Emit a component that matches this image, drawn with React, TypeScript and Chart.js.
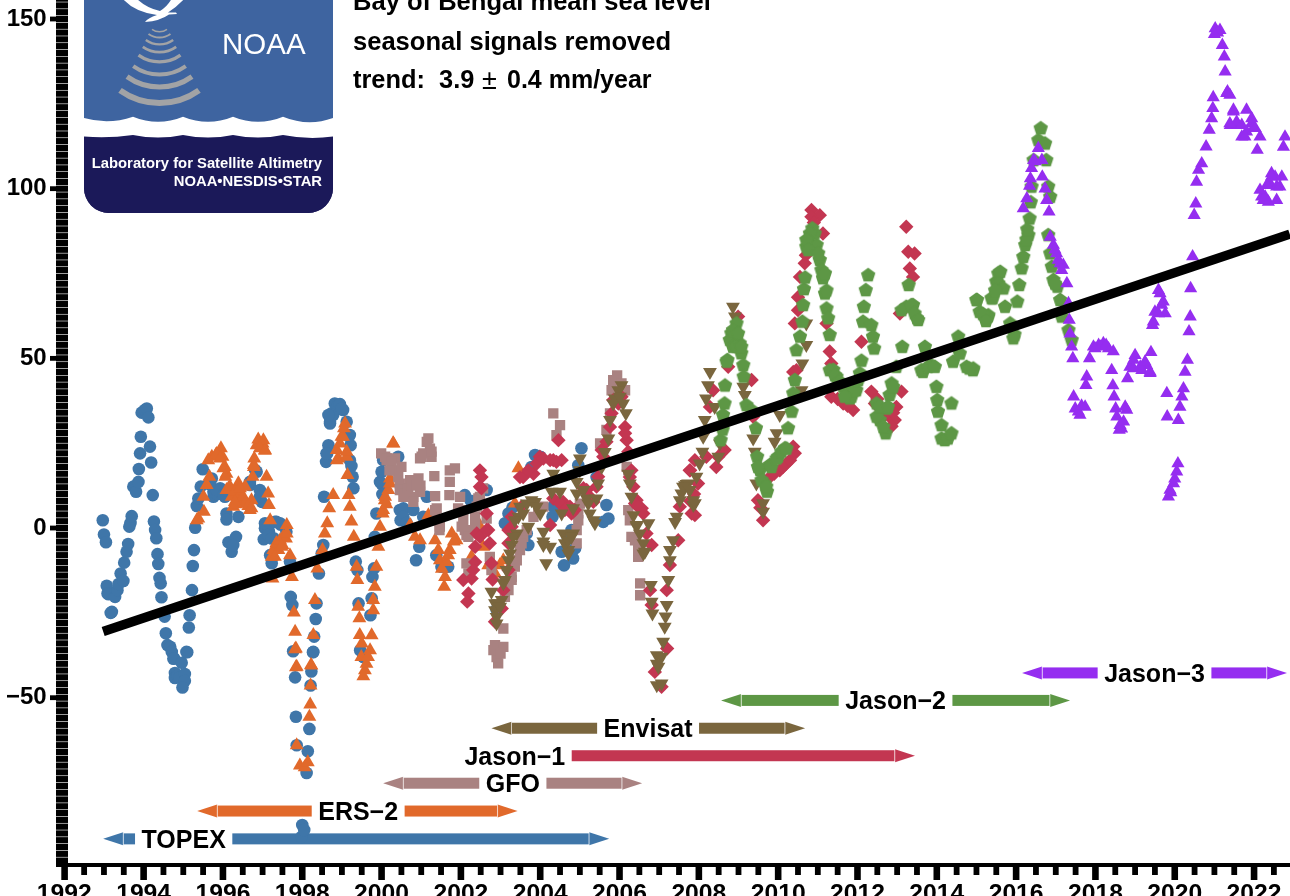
import React, { useEffect, useRef } from "react";
import { Chart, registerables } from "chart.js";
Chart.register(...registerables);

type P = [number, number];
const FONT = '"Liberation Sans", Arimo, Helvetica, Arial, sans-serif';

const topex: P[] = [[1992.97,2.3],[1993.0,-1.9],[1993.05,-4.2],[1993.07,-17],[1993.09,-19.3],[1993.2,-24.7],[1993.17,-25],[1993.12,-19.5],[1993.28,-20.3],[1993.34,-18.3],[1993.37,-16.5],[1993.42,-13.4],[1993.49,-15.6],[1993.51,-10.2],[1993.57,-7],[1993.61,-4.7],[1993.64,0.4],[1993.67,1.5],[1993.7,3.5],[1993.74,12.2],[1993.81,10.7],[1993.87,13.6],[1993.88,17.4],[1993.91,22],[1993.93,26.9],[1993.95,34],[1994.03,34.8],[1994.08,35.2],[1994.12,32.6],[1994.16,24],[1994.19,19.3],[1994.23,9.7],[1994.26,1.9],[1994.29,-0.6],[1994.32,-3],[1994.35,-7.7],[1994.37,-10.6],[1994.4,-14.7],[1994.43,-16.3],[1994.45,-20.4],[1994.53,-26.1],[1994.56,-31],[1994.6,-34.5],[1994.67,-35],[1994.71,-36.5],[1994.77,-38.4],[1994.75,-38.5],[1994.79,-42.7],[1994.79,-44.2],[1994.85,-43.5],[1994.9,-44],[1994.96,-39.7],[1995.04,-43],[1995.04,-45],[1994.98,-47],[1995.1,-36.6],[1995.08,-36.5],[1995.14,-29.3],[1995.16,-25.7],[1995.22,-18.3],[1995.24,-11.2],[1995.27,-6.5],[1995.3,0.1],[1995.34,6.5],[1995.38,8.7],[1995.44,12.2],[1995.49,17.3],[1995.72,14.6],[1995.64,13],[1995.76,9.2],[1995.85,10],[1995.93,11.7],[1996.05,9.2],[1996.09,4.3],[1996.09,2.5],[1996.39,3.3],[1996.14,-4.2],[1996.33,-2.6],[1996.22,-7],[1996.26,-5],[1996.85,16.6],[1996.68,12.7],[1996.93,11.2],[1996.98,7.7],[1997.35,1.8],[1997.45,1],[1997.06,-0.1],[1997.03,-3.3],[1997.16,-1],[1997.28,-3],[1997.6,-1.1],[1997.23,-10.4],[1997.19,-8],[1997.69,-9.9],[1997.71,-20.3],[1997.75,-22.7],[1997.77,-36.3],[1997.82,-44],[1997.84,-55.6],[1997.86,-64],[1998.11,-72.2],[1998.14,-65.8],[1998.18,-59.2],[1998.21,-46.4],[1998.23,-42.3],[1998.27,-36.6],[1998.28,-36.5],[1998.3,-32],[1998.34,-26.8],[1998.36,-22.2],[1998.42,-13.4],[1998.49,-7.5],[1998.53,-5],[1998.55,9.2],[1998.6,19.5],[1998.63,22],[1998.66,24.4],[1998.7,30.8],[1998.74,33.8],[1998.82,36.7],[1998.88,35.8],[1998.95,36.5],[1999.03,34.8],[1999.12,31.3],[1999.17,27],[1999.22,24.4],[1999.2,20],[1999.24,18.3],[1999.27,15.1],[1999.29,11.7],[1999.35,-9.9],[1999.39,-12.4],[1999.42,-22.2],[1999.46,-36],[1999.54,-38],[1999.72,-25.7],[1999.75,-20.7],[1999.77,-14.4],[1999.81,-11.9],[1999.83,-2.6],[1999.87,4.3],[1999.96,13.6],[2000.0,16.6],[2000.04,20],[2000.46,5.3],[2000.48,2.3],[2000.42,21],[2000.0,13],[2000.55,5.8],[2000.55,3.3],[2000.63,1.5],[2000.8,5.3],[2000.95,-5.5],[2000.87,-9.5],[2001.14,9.2],[2001.05,3.3],[2001.51,-11.4],[2001.68,-11.4],[2002.1,9.7],[2002.65,11.2],[2002.9,-24],[2003.2,4.3],[2003.11,1.4],[2003.7,-5],[2003.66,-1.6],[2003.87,21.5],[2004.0,21],[2005.04,23.5],[2004.96,18.5],[2005.42,15],[2005.67,6.8],[2005.72,2.8],[2005.59,1.8],[2004.33,6.3],[2004.31,3.3],[2004.54,-7],[2004.6,-11],[2004.83,-9],[2004.79,-0.6],[2003.3,6],[1998.0,-87.5],[1997.98,-91],[1998.05,-89]];
const topexMore: P[] = [[1995.76,10.7],[1995.84,11.2],[1996.01,9.7],[1995.67,13.1],[1996.93,9.2],[1996.81,17.1],[1996.68,13.6],[1997.06,1.4],[1997.19,1.4],[1997.31,1.8],[1997.44,1.4],[1997.14,-2.1],[1997.23,-3.1],[1998.7,31.3],[1998.78,33.3],[1998.66,33.3],[1998.99,35.2],[1998.61,22],[1999.2,27.4],[2000.02,10],[2001.38,-8],[2002.25,8],[2003.22,0],[2003.78,18],[2004.88,-6],[2004.7,-3]];

const ers2: P[] = [[1995.38,2.8],[1995.34,2.3],[1995.52,4.8],[1995.51,9.2],[1995.59,12.7],[1995.66,15.1],[1995.72,21],[1995.82,21.5],[1995.95,23.5],[1995.99,21],[1996.05,18],[1996.09,16],[1996.14,11.7],[1996.39,13.2],[1996.56,12.2],[1996.22,9.2],[1996.43,9.5],[1996.26,6.3],[1996.34,7],[1996.5,7.5],[1996.68,5.3],[1996.72,8.2],[1996.75,15.1],[1996.78,18.6],[1996.79,20.5],[1996.85,24.4],[1997.0,24.9],[1996.92,25],[1997.06,23],[1997.1,15.1],[1997.14,10.2],[1997.16,6.8],[1997.19,2.3],[1997.61,0.9],[1997.59,-3.1],[1997.35,-4.5],[1997.4,-6.5],[1997.5,-5],[1997.23,-8.5],[1997.69,-8],[1997.25,-14.9],[1997.74,-14.4],[1997.79,-24.9],[1997.82,-30.6],[1997.84,-35.5],[1997.86,-40.9],[1998.22,-40.4],[1998.28,-31.5],[1998.32,-21.2],[1998.38,-11.9],[1998.51,-6.5],[1998.57,-1.6],[1998.63,1.4],[1998.68,5.8],[1998.78,9.7],[1998.91,20.5],[1998.87,23],[1999.03,26.9],[1999.08,30.8],[1999.12,21],[1999.14,15.6],[1999.17,9.7],[1999.2,6.3],[1999.24,1.9],[1999.3,-2.6],[1999.37,-11.4],[1999.39,-15.3],[1999.41,-23.2],[1999.44,-26.6],[1999.45,-31.5],[1999.5,-34],[1999.58,-41.9],[1999.54,-43.7],[1999.71,-36],[1999.75,-31.6],[1999.79,-24.2],[1999.79,-21.2],[1999.83,-17.3],[1999.87,-11.4],[1999.92,-5.5],[1999.96,0.4],[2000.03,4.3],[2000.08,8.2],[2000.17,11.2],[2000.21,14.6],[2000.29,25],[1997.82,-35.7],[1997.84,-41],[1997.86,-64],[1997.94,-70],[1998.06,-70.5],[1998.14,-69],[1998.18,-55.6],[1998.2,-52],[1998.21,-46.4],[1998.23,-40.5],[2000.3,24.9],[2000.21,13.1],[2000.09,9.2],[2000.04,5.3],[2000.84,-2.6],[2000.72,0.9],[2000.97,-3.6],[2001.18,3.8],[2001.35,-3.6],[2001.43,-6.5],[2001.47,-9.5],[2001.77,-1.6],[2001.72,-6.5],[2001.64,-10],[2001.6,-14.4],[2001.58,-17.3],[2001.89,-3.6],[2002.27,-8.5],[2002.56,-5.5],[2002.69,-11],[2002.86,-13.4],[2003.07,-9.5],[2003.45,17.6],[2003.36,7.2],[2002.4,2.3]];
const ers2More: P[] = [[1996.09,11.2],[1996.18,12.2],[1996.3,10.7],[1996.35,8.2],[1996.51,9.2],[1996.56,7.3],[1996.64,6.5],[1996.72,5.8],[1996.43,11.7],[1996.3,7.7],[1997.27,-6.5],[1997.35,-4.5],[1997.44,-3.6],[1997.52,-2.6],[1997.61,-1.6],[1997.31,-8.5],[1997.48,-5.5],[1995.63,20],[1995.84,21.8],[1995.93,20.5],[1996.01,17.6],[1996.06,15.1],[1996.89,26.1],[1997.02,25.9],[1996.93,23.5],[1997.06,22.8],[1996.78,18],[1998.95,24.9],[1998.99,26.9],[1999.05,29.4],[1999.12,22.5],[1998.87,20],[1999.49,-38],[1999.62,-40],[1999.66,-38],[2000.12,7],[2001.52,-12],[2001.68,-8],[2001.82,-4],[2002.5,0],[2002.98,-11]];

const gfo: P[] = [[1999.99,22],[2000.13,20],[2000.09,21],[2000.34,20.5],[2000.38,17],[2000.46,13.1],[2000.55,9.2],[2000.72,14.1],[2000.93,14.6],[2000.98,12.5],[2000.8,9.2],[2001.01,21],[2001.14,25.4],[2001.22,23.4],[2001.26,21],[2001.33,15.3],[2001.35,9.4],[2001.39,5.8],[2001.46,-0.6],[2001.72,17],[2001.85,17.6],[2001.72,13.6],[2001.71,9.7],[2001.98,9.2],[2001.93,5.8],[2002.06,2.3],[2002.14,-2.1],[2002.36,3.3],[2002.44,8.7],[2002.56,11.7],[2002.65,2.8],[2002.73,-8.5],[2002.14,-10.4],[2002.19,-13.4],[2003.11,-20.3],[2003.07,-29.6],[2002.86,-34.5],[2003.07,-35],[2002.94,-39.9],[2002.9,-38],[2003.28,-15.3],[2003.36,-11.4],[2003.49,-6.5],[2003.57,-2.6],[2004.08,6.3],[2003.95,5.3],[2004.33,33.8],[2004.5,30.3],[2004.41,27.4],[2004.96,2.3],[2004.92,-4.5],[2005.09,11.2],[2005.51,24.9],[2005.8,40.6],[2005.94,45],[2006.14,40.6],[2006.18,18],[2006.22,5.3],[2006.3,-2.6],[2006.47,-8.5],[2006.52,-16.3],[2006.52,-19.8]];
const gfoMore: P[] = [[2000.13,20.5],[2000.25,19.5],[2000.42,15.1],[2000.46,11.2],[2000.59,10.2],[2000.67,11.7],[2000.76,12.6],[2000.88,12.6],[2000.97,10.7],[2000.8,7.7],[2000.97,20.5],[2001.05,22],[2001.18,26.4],[2001.26,22.5],[2001.35,5.3],[2001.39,2.3],[2001.47,0.4],[2002.06,5.3],[2002.02,0.4],[2002.1,-0.6],[2002.19,-2.6],[2002.36,0.4],[2002.4,6.3],[2002.48,9.2],[2002.77,-12.4],[2003.2,-18.3],[2003.28,-14.4],[2003.41,-9.5],[2003.53,-4.5],[2003.66,-0.6],[2003.83,3.3],[2004.92,-0.6],[2004.96,4.3],[2005,7.2],[2005.67,28.9],[2005.76,33.8],[2005.84,43.6],[2006.05,42.6],[2006.22,17],[2006.26,2.3],[2006.39,-3.6],[2006.47,-6.5],[2002.82,-36],[2003.0,-37],[2000.5,18],[2000.2,17]];

const jason1: P[] = [[2002.48,17],[2002.52,15],[2002.52,11.7],[2002.65,4.3],[2002.69,-0.6],[2002.4,-1.6],[2002.73,-4.5],[2002.36,-5.5],[2002.36,-10],[2002.77,-10.4],[2002.27,-14.9],[2002.06,-15.3],[2002.8,-15.2],[2002.19,-19.3],[2002.16,-21.7],[2003.07,-18.3],[2002.86,-27.6],[2003.03,-23.7],[2003.2,-12.4],[2003.2,-4.5],[2003.2,-0.6],[2003.49,15],[2003.53,6.3],[2003.83,16],[2003.99,21],[2004.33,20],[2004.46,25.9],[2004.54,20],[2004.25,0.9],[2004.33,8.7],[2004.58,7.7],[2004.79,4.8],[2004.87,5.3],[2005.17,11.2],[2005.42,12.2],[2005.55,23],[2005.8,33.8],[2005.84,37.7],[2006.14,29.8],[2006.18,25.9],[2006.22,22.5],[2006.26,15],[2006.35,12.2],[2006.43,8.2],[2006.56,5.8],[2006.81,-5],[2006.77,-18.3],[2006.81,-22.7],[2006.89,-42.4],[2007.06,-46.8],[2007.2,-35.5],[2007.19,-18.3],[2007.27,-10.9],[2007.48,-3.6],[2007.78,17],[2007.82,4.3],[2007.9,20],[2007.77,17],[2007.98,13.1],[2007.9,3.8],[2007.52,6.3],[2008.36,40.6],[2008.28,35.7],[2008.19,21],[2008.65,23],[2008.49,21],[2008.99,62.3],[2008.74,47.5],[2009.33,43.6],[2009.37,32.8],[2009.62,2.3],[2009.49,8.2],[2009.79,15],[2010.04,17],[2010.42,22],[2010.38,24],[2010.21,19],[2010.46,46.5],[2010.5,64.2],[2010.42,60.3],[2010.55,74],[2010.67,78],[2010.7,80.4],[2010.84,93.7],[2011.05,92.2],[2010.84,91.7],[2010.9,90],[2011.13,86.8],[2011.22,60.3],[2011.3,52],[2011.34,48.5],[2011.34,38.7],[2011.89,34.8],[2011.64,36.7],[2012.1,54.9],[2012.35,40.2],[2012.44,36.7],[2012.81,32.8],[2012.98,35.7],[2013.11,40.2],[2013.07,63.2],[2013.23,88.8],[2013.28,81.4],[2013.44,80.9],[2013.32,76.5],[2013.4,74],[2012.94,31.8]];
const jason1More: P[] = [[2003.57,15],[2003.7,17],[2003.91,19],[2004.08,20.5],[2004.25,20],[2004.41,19.5],[2003.28,0.4],[2003.28,3.3],[2002.31,-12.4],[2002.48,-2.6],[2002.65,-0.6],[2002.48,12.2],[2004.79,4.3],[2004.75,6.3],[2004.5,7.2],[2004.62,5.3],[2005.09,11.7],[2005.25,9.2],[2005.34,7.7],[2005.46,15.1],[2005.59,21],[2005.67,25.4],[2005.76,29.8],[2005.97,36.7],[2006.05,38.7],[2006.14,27.9],[2006.3,17],[2006.39,7.2],[2006.47,6.3],[2006.6,4.3],[2006.68,-1.6],[2007.78,8],[2007.88,10],[2008.1,28],[2008.44,18],[2009.55,6],[2009.9,16],[2010.12,18],[2010.3,20],[2010.38,46],[2010.5,68],[2012.5,38],[2012.66,33],[2012.9,34],[2012.86,30],[2011.5,38],[2011.75,36]];

const envisat: P[] = [[2002.77,-18.8],[2002.86,-22.2],[2003.03,-21.2],[2002.9,-26.2],[2003.11,-15.3],[2003.2,-9.5],[2003.28,-5],[2003.41,-1.6],[2003.45,3.3],[2003.49,6.3],[2003.7,0.4],[2003.87,7.7],[2004.08,-1.1],[2004.08,-5],[2004.25,-5.5],[2004.15,-10.4],[2004.33,16],[2004.29,10.7],[2004.5,10.7],[2004.54,4.3],[2004.58,-1.6],[2004.71,-6.5],[2004.83,-1.6],[2005,20.5],[2004.92,13.6],[2004.83,5.8],[2005.17,8.7],[2005.25,4.3],[2005.38,1.4],[2005.42,8.7],[2005.46,13.1],[2005.63,22.4],[2005.72,26.4],[2005.76,31.8],[2005.88,38.2],[2006.05,42.1],[2006.09,36.7],[2006.16,33.8],[2006.22,16],[2006.26,13.1],[2006.3,9.2],[2006.35,3.8],[2006.43,0.5],[2006.6,-4.5],[2006.73,1.4],[2006.6,-7.5],[2006.79,-16.8],[2006.81,-21.7],[2006.83,-25.2],[2006.94,-37.5],[2006.98,-40.9],[2006.94,-46.3],[2007.06,-45.8],[2007.19,-22.7],[2007.16,-26.1],[2007.14,-29.1],[2007.1,-33.5],[2007.06,-37.9],[2007.23,-15.3],[2007.27,-9.5],[2007.35,-3.6],[2007.4,1.8],[2007.52,8.2],[2007.65,12.6],[2007.86,6.8],[2007.94,15.1],[2007.69,13],[2007.86,8.2],[2008.02,19],[2008.09,22.5],[2008.11,26.9],[2008.15,31.8],[2008.18,38.2],[2008.23,42.1],[2008.28,46],[2008.4,35.7],[2008.53,24.9],[2008.49,21],[2008.86,65.2],[2008.91,62.3],[2009.12,41.6],[2009.16,39.2],[2009.37,26.4],[2009.41,22.5],[2009.45,13.1],[2009.62,7.3],[2009.62,4.8],[2009.91,25.4],[2009.96,27.9],[2010.04,33.3],[2010.61,48.5],[2010.59,40.6],[2010.71,53.9],[2010.71,60.3]];
const envisatMore: P[] = [[2002.86,-24.2],[2002.9,-28.1],[2002.94,-22.2],[2002.99,-23.2],[2003.07,-16.3],[2003.15,-12.4],[2003.24,-7.5],[2003.32,-2.6],[2003.36,2.3],[2003.57,4.3],[2003.66,7.2],[2003.78,8.2],[2003.91,6.3],[2004,4.3],[2004.08,-4],[2004.62,-4.5],[2004.71,-3.6],[2004.79,-2.6],[2004.71,-7.5],[2004.92,10.2],[2005,17],[2005.09,11.2],[2005.21,7.2],[2005.34,2.3],[2005.55,18],[2005.84,36.7],[2005.97,40.6],[2006.01,38.7],[2006.43,0.9],[2006.51,-1.6],[2006.64,-7],[2007.27,-6.5],[2007.44,3.3],[2007.56,10.2],[2007.73,13.1],[2006.94,-40],[2007.6,12.2],[2007.77,11.2],[2007.9,7.3]];

const jason2: P[] = [[2008.72,49.5],[2008.65,36.7],[2008.61,33.3],[2008.55,25.9],[2008.82,57.4],[2008.95,60.3],[2009.03,54.4],[2009.07,51.5],[2009.12,48],[2009.13,44.6],[2009.2,36.2],[2009.33,34.7],[2009.44,29.4],[2009.47,21],[2009.54,17.1],[2009.66,13.1],[2009.72,10.7],[2009.79,18.6],[2010,21],[2010.17,23.5],[2010.25,29.4],[2010.34,34.3],[2010.38,39.7],[2010.42,43.6],[2010.46,52.4],[2010.55,56.4],[2010.61,60.8],[2010.63,65.7],[2010.65,70.4],[2010.68,73.8],[2010.71,82.9],[2010.76,84.9],[2010.86,88.3],[2010.97,83.4],[2011.05,79],[2011.13,73.6],[2011.18,69.1],[2011.22,64.7],[2011.26,61.8],[2011.3,56.9],[2011.39,46.6],[2011.47,44.6],[2011.64,41.6],[2011.81,38.2],[2011.97,40.6],[2012.06,45.6],[2012.1,49.3],[2012.14,60.8],[2012.16,65.2],[2012.21,70.1],[2012.27,74.5],[2012.35,59.8],[2012.39,56.4],[2012.42,52.9],[2012.48,36.7],[2012.56,31.8],[2012.71,27.9],[2012.73,35.2],[2012.81,39.2],[2012.86,42.6],[2012.98,47.5],[2013.13,53.4],[2013.23,65.2],[2013.29,71.6],[2013.4,65.7],[2013.5,61.8],[2013.7,53.4],[2013.65,46],[2013.86,48],[2013.99,41.6],[2014.01,37.7],[2014.03,34.3],[2014.12,30.3],[2014.2,25.9],[2014.37,36.7],[2014.41,49],[2014.54,56.4],[2014.75,47.5],[2014.91,46.5],[2015,67.2],[2015.08,63.7],[2015.29,62.3],[2015.38,67.7],[2015.5,72.6],[2015.55,75],[2014.92,47],[2015.01,67.2],[2015.3,62.7],[2015.41,67.7],[2015.72,65.2],[2016.03,66.7],[2015.6,75.5],[2015.55,72.1],[2015.68,70.6],[2015.93,55.9],[2015.85,60.3],[2016.08,71.6],[2016.14,76.5],[2016.18,79.9],[2016.23,83.4],[2016.31,86.3],[2016.34,91.2],[2016.39,100.6],[2016.44,108.4],[2016.56,114.3],[2016.62,117.8],[2016.73,113.3],[2016.76,108.4],[2016.81,100.6],[2016.86,97.6],[2016.81,86.3],[2016.86,80.9],[2016.9,77],[2016.94,73.1],[2017.04,71.1],[2017.11,67.2],[2017.15,62.3],[2017.32,58.3],[2017.4,55.4]];
const jason2More: P[] = [[2008.7,49],[2008.78,55.4],[2008.86,58.3],[2008.99,57.3],[2008.86,53.4],[2008.95,53.4],[2009.07,53.4],[2009.49,18],[2009.58,14.1],[2009.7,12.2],[2009.83,18],[2009.96,20.5],[2010.08,22.5],[2010.21,23.4],[2010.92,86.8],[2010.8,86.8],[2010.71,84.9],[2010.76,81.9],[2011.01,80.9],[2011.09,76],[2011.3,46.5],[2011.43,45],[2011.55,43.1],[2011.72,40.6],[2011.85,38.7],[2011.93,40.6],[2011.68,38.7],[2012.02,43.6],[2012.48,32.8],[2012.65,29.8],[2012.56,35.7],[2012.77,35.7],[2012.9,41.6],[2013.11,64.2],[2013.36,65.7],[2013.44,63.2],[2013.53,61.3],[2013.61,46.5],[2013.78,47.5],[2013.95,47.5],[2014.12,26.4],[2014.28,26.4],[2014.37,27.9],[2014.58,51.4],[2014.82,47],[2015.16,63],[2015.24,61],[2015.47,70],[2015.96,57],[2016.26,85],[2016.37,96],[2016.28,88],[2016.98,72],[2011.18,75],[2011.22,70],[2008.66,42],[2008.6,29]];

const jason3: P[] = [[2016.18,94.2],[2016.27,97.1],[2016.34,100.8],[2016.39,106],[2016.44,108.4],[2016.56,111.9],[2016.65,108.4],[2016.66,103.5],[2016.73,100],[2016.77,96.6],[2016.83,93.2],[2016.86,85.8],[2016.94,83.4],[2017.02,80.9],[2017.11,78],[2017.19,77.5],[2017.28,72.1],[2017.32,66.2],[2017.34,61.3],[2017.36,57.3],[2017.4,53.4],[2017.43,50],[2017.45,38.7],[2017.49,35.2],[2017.57,34.3],[2017.74,35.7],[2017.61,33.3],[2017.76,42.1],[2017.78,44.6],[2017.85,50],[2017.95,53.4],[2018.08,53.9],[2018.2,54.4],[2018.33,52.9],[2018.41,46.5],[2018.44,42],[2018.47,38.7],[2018.51,35.2],[2018.54,32.8],[2018.62,30.3],[2018.66,29.3],[2018.75,35.7],[2018.81,44.1],[2018.87,47.5],[2019,50.9],[2019.13,47.5],[2019.29,48],[2019.4,51.8],[2019.38,45.6],[2019.44,59.8],[2019.5,63.7],[2019.59,70.1],[2019.71,66.7],[2019.76,63.2],[2019.8,39.7],[2019.81,32.8],[2019.84,9.2],[2019.88,11.2],[2019.97,13.1],[2020.05,16.6],[2020.08,19],[2020.09,31.8],[2020.13,35.7],[2020.18,38.7],[2020.22,41.1],[2020.26,46],[2020.32,49.5],[2020.36,57.9],[2020.39,62.3],[2020.4,70.6],[2020.45,80],[2020.49,92.2],[2020.53,95.6],[2020.55,102],[2020.6,105.5],[2020.68,107.4],[2020.79,112.4],[2020.87,117.3],[2020.93,120.7],[2020.96,123.7],[2020.97,126.9],[2021.02,147.2],[2021.14,146.7],[2021.2,142.3],[2021.25,138.9],[2021.27,134.5],[2021.33,128.6],[2021.48,122.7],[2021.4,118.7],[2021.6,118.7],[2021.81,123.2],[2021.69,115.3],[2021.94,119.2],[2021.98,117.8],[2022.15,115.3],[2022.08,111.4],[2022.19,97.6],[2022.23,96.6],[2022.36,96.1],[2022.57,96.6],[2022.44,104.5],[2022.4,101.6],[2022.57,100.6],[2022.7,103.5],[2022.74,112.3],[2022.78,115.3]];
const jason3More: P[] = [[2021.48,123.2],[2021.56,119.7],[2021.69,118.7],[2021.81,116.8],[2021.94,120.7],[2022.03,117.8],[2021.39,119.2],[2021.31,128.1],[2021.39,127.6],[2021.77,115.3],[2022.28,97.6],[2022.15,99.6],[2022.32,101],[2022.53,103.5],[2022.65,100.6],[2022.44,103.5],[2017.99,52.9],[2018.13,53.4],[2018.27,53.9],[2018.45,52],[2018.6,28.9],[2018.71,31.3],[2018.79,34.8],[2018.96,49.5],[2018.96,47],[2019.17,46.5],[2019.38,46],[2019.25,49],[2019.46,60.8],[2019.59,63.2],[2019.67,65.7],[2019.63,69.1],[2021.08,146],[2021.0,145.5],[2016.48,108],[2016.36,103],[2016.98,82],[2017.06,79],[2017.15,76],[2017.65,36],[2019.9,10.5],[2020.0,14.5]];

const trend: P[] = [[1992.98,-30.5],[2022.9,86.6]];

const missionNames = ["TOPEX", "ERS\u22122", "GFO", "Jason\u22121", "Envisat", "Jason\u22122", "Jason\u22123"];
const missionStart: (number | null)[] = [1992.98, 1995.35, 2000.04, null, 2002.77, 2008.56, 2016.15];
const missionEnd = [2005.74, 2003.43, 2006.57, 2013.45, 2010.68, 2017.36, 2022.83];
const missionLabelAt = [1995.01, 1999.41, 2003.31, 2003.36, 2006.72, 2012.96, 2019.49];
const missionLevel = [-91.6, -83.4, -75.2, -67.1, -59, -50.8, -42.7];
const missionColor = ["#3F76A9", "#E1692B", "#A98281", "#C33651", "#7A663E", "#5D9745", "#952DF0"];

const titleLines = ["Bay of Bengal mean sea level", "seasonal signals removed"];

const xMinor: number[] = [];
for (let i = 0; i <= 61; i++) xMinor.push(1992 + i * 0.5);
const yMinor: number[] = [];
for (let i = -49; i <= 78; i++) yMinor.push(i * 2);

function pentagon(color: string, r: number) {
  const c = document.createElement("canvas");
  c.width = c.height = Math.ceil(r * 2 + 2);
  const g = c.getContext("2d")!;
  g.fillStyle = color;
  g.beginPath();
  for (let i = 0; i < 5; i++) {
    const a = -Math.PI / 2 + (i * 2 * Math.PI) / 5;
    const px = c.width / 2 + r * Math.cos(a);
    const py = c.height / 2 + r * Math.sin(a);
    i ? g.lineTo(px, py) : g.moveTo(px, py);
  }
  g.closePath();
  g.fill();
  return c;
}

function drawLogo(ctx: CanvasRenderingContext2D) {
  ctx.save();
  const l = 84, r = 333, b = 213, rad = 25;
  ctx.beginPath();
  ctx.moveTo(l, -5);
  ctx.lineTo(r, -5);
  ctx.lineTo(r, b - rad);
  ctx.arcTo(r, b, r - rad, b, rad);
  ctx.lineTo(l + rad, b);
  ctx.arcTo(l, b, l, b - rad, rad);
  ctx.closePath();
  ctx.save();
  ctx.clip();
  ctx.fillStyle = "#1B1959";
  ctx.fillRect(l, 0, r - l, b);
  const cusps = [283, 233, 183, 133];
  ctx.fillStyle = "#FFFFFF";
  ctx.fillRect(l, 110, r - l, 28);
  // lower edge of the white band
  ctx.fillStyle = "#1B1959";
  ctx.beginPath();
  ctx.moveTo(l, 136.5);
  ctx.quadraticCurveTo(108, 138.5, 133, 135);
  ctx.quadraticCurveTo(158, 140, 183, 135);
  ctx.quadraticCurveTo(208, 140, 233, 135);
  ctx.quadraticCurveTo(258, 140, 283, 135);
  ctx.quadraticCurveTo(308, 140, 333, 136.5);
  ctx.lineTo(r, 215);
  ctx.lineTo(l, 215);
  ctx.closePath();
  ctx.fill();
  // blue field with scalloped lower edge
  ctx.fillStyle = "#3E64A0";
  ctx.beginPath();
  ctx.moveTo(l, -2);
  ctx.lineTo(r, -2);
  ctx.lineTo(r, 118);
  let px = r;
  for (const c of cusps) {
    ctx.quadraticCurveTo((px + c) / 2, 127, c, 116.7);
    px = c;
  }
  ctx.quadraticCurveTo((l + 133) / 2, 125, l, 118);
  ctx.closePath();
  ctx.fill();
  ctx.restore();

  // swoosh
  ctx.fillStyle = "#FFFFFF";
  ctx.beginPath();
  ctx.moveTo(122, -2);
  ctx.quadraticCurveTo(134, 12, 157, 15);
  ctx.quadraticCurveTo(148, 18, 145, 22);
  ctx.quadraticCurveTo(160, 21, 169, 14.5);
  ctx.lineTo(177, 14);
  ctx.lineTo(176, 12.5);
  ctx.lineTo(168, 12.5);
  ctx.quadraticCurveTo(178, 6, 185, -2);
  ctx.lineTo(172, -2);
  ctx.quadraticCurveTo(168, 6, 160, 11);
  ctx.quadraticCurveTo(146, 8, 136, -2);
  ctx.closePath();
  ctx.fill();

  // signal arcs
  ctx.strokeStyle = "#A2A3A5";
  const halfWidths = [7.5, 11, 13.7, 16.7, 21, 26.3, 32.5, 39.5];
  const arcWeights = [1.5, 2, 2.3, 2.7, 3.3, 4, 5, 6];
  const arcBottoms = [32.5, 38.5, 45.5, 53.5, 63.5, 76.5, 89.5, 106];
  halfWidths.forEach((hw, i) => {
    const R = hw * 1.72;
    const lw = arcWeights[i];
    ctx.lineWidth = lw;
    ctx.beginPath();
    ctx.arc(159.5, arcBottoms[i] - lw / 2 - R, R, Math.PI / 2 - 0.62, Math.PI / 2 + 0.62);
    ctx.stroke();
  });

  ctx.fillStyle = "#FFFFFF";
  ctx.textBaseline = "alphabetic";
  ctx.textAlign = "left";
  ctx.font = `400 29.5px ${FONT}`;
  ctx.fillText("NOAA", 222, 54);
  ctx.textAlign = "right";
  ctx.font = `700 14.8px ${FONT}`;
  ctx.fillText("Laboratory for Satellite Altimetry", 322, 168);
  ctx.fillText("NOAA\u2022NESDIS\u2022STAR", 322, 185.5);
  ctx.restore();
}

const decor = {
  id: "decor",
  beforeDatasetsDraw(chart: any) {
    const ctx: CanvasRenderingContext2D = chart.ctx;
    const xs = chart.scales.x, ys = chart.scales.y;
    drawLogo(ctx);
    ctx.save();
    ctx.fillStyle = "#000";
    ctx.textBaseline = "alphabetic";
    ctx.textAlign = "left";
    ctx.font = `700 25.55px ${FONT}`;
    ctx.fillText(titleLines[0], 353, 10);
    ctx.fillText(titleLines[1], 353, 50);
    ctx.font = `700 25.4px ${FONT}`;
    ctx.fillText("trend:  3.9", 353, 88);
    ctx.font = `400 27px ${FONT}`;
    ctx.fillText("\u00B1", 482, 89);
    ctx.font = `700 25px ${FONT}`;
    ctx.fillText("0.4 mm/year", 507, 88);

    const head = 20.5, hh = 5.5, hb = 6.5;
    ctx.font = `700 25px ${FONT}`;
    ctx.textAlign = "center";
    missionNames.forEach((name, i) => {
      const y = ys.getPixelForValue(missionLevel[i]);
      const cx = xs.getPixelForValue(missionLabelAt[i]);
      const tw = ctx.measureText(name).width;
      const gapL = cx - tw / 2 - 6.5, gapR = cx + tw / 2 + 6.5;
      const tipR = xs.getPixelForValue(missionEnd[i]);
      ctx.fillStyle = missionColor[i];
      ctx.fillRect(gapR, y - hh, tipR - head - gapR, hh * 2);
      ctx.beginPath();
      ctx.moveTo(tipR - head + 0.5, y - hb);
      ctx.lineTo(tipR, y);
      ctx.lineTo(tipR - head + 0.5, y + hb);
      ctx.closePath();
      ctx.fill();
      ctx.fillStyle = "rgba(255,255,255,0.35)";
      ctx.fillRect(tipR - head, y - hb, 1, hb * 2);
      const s = missionStart[i];
      if (s !== null) {
        const tipL = xs.getPixelForValue(s);
        ctx.fillStyle = missionColor[i];
        ctx.fillRect(tipL + head, y - hh, gapL - tipL - head, hh * 2);
        ctx.beginPath();
        ctx.moveTo(tipL + head - 0.5, y - hb);
        ctx.lineTo(tipL, y);
        ctx.lineTo(tipL + head - 0.5, y + hb);
        ctx.closePath();
        ctx.fill();
        ctx.fillStyle = "rgba(255,255,255,0.35)";
        ctx.fillRect(tipL + head - 1, y - hb, 1, hb * 2);
      }
      ctx.fillStyle = "#000";
      ctx.fillText(name, cx, y + 8.8);
    });
    ctx.restore();
  },
  afterDraw(chart: any) {
    const ctx: CanvasRenderingContext2D = chart.ctx;
    const xs = chart.scales.x, ys = chart.scales.y;
    const axisY = chart.chartArea.bottom;
    ctx.save();
    ctx.fillStyle = "#000";
    for (const v of yMinor) {
      const y = ys.getPixelForValue(v);
      if (y > axisY) continue;
      const major = v % 50 === 0;
      ctx.fillRect(56, y - 3.1, 12, 6.2);
      if (major) ctx.fillRect(50, y - 2.4, 6, 4.8);
    }
    for (const v of xMinor) {
      const x = xs.getPixelForValue(v);
      const major = v % 2 === 0;
      const w = major ? 6.6 : 5.8;
      ctx.fillRect(x - w / 2 + (v === 1992 ? 0.3 : 0), axisY - 2, w, (major ? 15 : 10) + 2);
    }
    ctx.fillRect(56, axisY - 2, 1234, 4);
    ctx.restore();
  },
};

const noPadding = (s: any) => {
  s.paddingLeft = s.paddingRight = s.paddingTop = s.paddingBottom = 0;
};

export default function App() {
  const ref = useRef<HTMLCanvasElement>(null);
  useEffect(() => {
    const pts = (label: string, data: P[], color: string, style: any, radius: number, order: number, rotation = 0) => ({
      label,
      data: data.map(([x, y]) => ({ x, y })),
      backgroundColor: color,
      borderColor: color,
      pointBackgroundColor: color,
      pointBorderWidth: 0,
      pointStyle: style,
      pointRadius: radius,
      pointRotation: rotation,
      showLine: false,
      order,
    });
    const chart = new Chart(ref.current!, {
      type: "scatter",
      data: {
        datasets: [
          {
            label: "trend",
            data: trend.map(([x, y]) => ({ x, y })),
            showLine: true,
            borderColor: "#000",
            backgroundColor: "#000",
            borderWidth: 9.5,
            borderCapStyle: "butt",
            pointRadius: 0,
            order: 0,
          } as any,
          pts("Jason-3", [...jason3, ...jason3More], missionColor[6], "triangle", 7.6, 1),
          pts("Jason-2", [...jason2, ...jason2More], missionColor[5], pentagon(missionColor[5], 7.6), 7.6, 2),
          pts("Envisat", [...envisat, ...envisatMore], missionColor[4], "triangle", 8, 3, 180),
          pts("Jason-1", [...jason1, ...jason1More], missionColor[3], "rectRot", 7.2, 4),
          pts("GFO", [...gfo, ...gfoMore], missionColor[2], "rect", 7.3, 5),
          pts("ERS-2", [...ers2, ...ers2More], missionColor[1], "triangle", 8, 6),
          pts("TOPEX", [...topex, ...topexMore], missionColor[0], "circle", 6.3, 7),
        ],
      },
      options: {
        animation: false,
        responsive: false,
        devicePixelRatio: 1,
        layout: { autoPadding: false, padding: 0 },
        plugins: { legend: { display: false }, tooltip: { enabled: false }, title: { display: false } },
        scales: {
          x: {
            type: "linear",
            min: 1992,
            max: 2022.906,
            afterFit: (s: any) => { s.height = 31; noPadding(s); },
            grid: { display: false, drawTicks: false },
            border: { display: false },
            ticks: {
              stepSize: 2,
              autoSkip: false,
              includeBounds: false,
              maxRotation: 0,
              padding: 14,
              color: "#000",
              font: { family: FONT, size: 24.7, weight: "bold" },
              callback: (v: any) => (Number.isInteger(v) && v % 2 === 0 ? String(v) : ""),
            },
          },
          y: {
            type: "linear",
            min: -99.3,
            max: 155.6,
            afterFit: (s: any) => { s.width = 64.3; noPadding(s); },
            grid: { display: false, drawTicks: false },
            border: { display: false },
            ticks: {
              stepSize: 50,
              autoSkip: false,
              includeBounds: false,
              padding: 17.6,
              color: "#000",
              font: { family: FONT, size: 24, weight: "bold" },
              callback: (v: any) => (v % 50 === 0 ? (v < 0 ? "\u2212" + Math.abs(v) : String(v)) : ""),
            },
          },
        },
      } as any,
      plugins: [decor],
    });
    return () => chart.destroy();
  }, []);
  return (
    <div style={{ position: "absolute", left: 0, top: 0, width: 1290, height: 896, overflow: "hidden", background: "#fff" }}>
      <canvas ref={ref} width={1290} height={896} style={{ display: "block" }} />
    </div>
  );
}
